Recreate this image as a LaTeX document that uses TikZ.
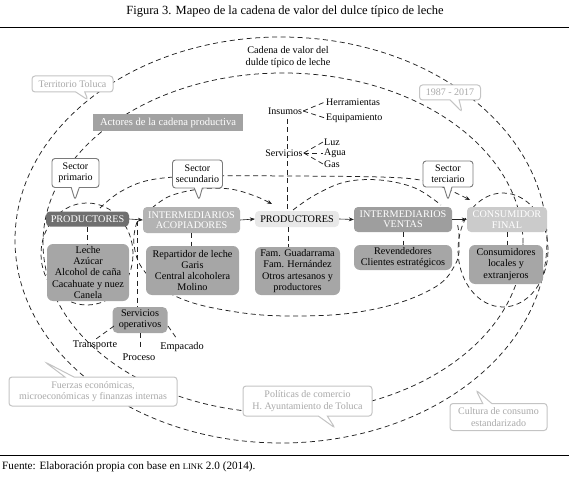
\documentclass[tikz,border=0pt]{standalone}
\usepackage{fontspec}
\setmainfont{Liberation Serif}
\usetikzlibrary{shapes.callouts,arrows.meta}
\definecolor{pdark}{HTML}{6F6F6F}
\definecolor{pia}{HTML}{B3B3B3}
\definecolor{plight}{HTML}{E8E8E8}
\definecolor{piv}{HTML}{9E9E9E}
\definecolor{pcf}{HTML}{CBCBCB}
\definecolor{psub}{HTML}{A6A6A6}
\definecolor{pact}{HTML}{A2A2A2}
\definecolor{cborder}{HTML}{C4C4C4}
\definecolor{ctext}{HTML}{A9A9A9}
\definecolor{sborder}{HTML}{7A7A7A}
\definecolor{lineclr}{HTML}{222222}
\tikzset{
 dline/.style={draw=lineclr, line width=0.75pt, dash pattern=on 5pt off 3.5pt},
 mainbox/.style={rounded corners=4pt, inner sep=0pt, align=center, font=\fontsize{10.2}{10.3}\selectfont},
 subbox/.style={fill=psub, rounded corners=6pt, inner sep=0pt, align=center, font=\fontsize{10.2}{11.3}\selectfont, text=black},
 lbl/.style={font=\fontsize{10}{11}\selectfont, inner sep=1pt},
 graycall/.style={rectangle callout, draw=cborder, line width=1pt, fill=white, rounded corners=3pt, inner sep=0pt, text=ctext, font=\fontsize{10}{11.5}\selectfont, align=center, callout pointer width=9pt},
 sectcall/.style={rectangle callout, draw=sborder, line width=0.9pt, fill=white, rounded corners=3pt, inner sep=0pt, font=\fontsize{10}{11}\selectfont, align=center, callout pointer width=8pt},
 arr/.style={draw=lineclr, line width=0.6pt, -{Stealth[length=5pt,width=4pt]}},
 darr/.style={dline, -{Stealth[length=5pt,width=4pt]}}
}
\begin{document}
\begin{tikzpicture}[x=1pt,y=-1pt]
\useasboundingbox (0,0) rectangle (569,478);
% title and rules
\node[font=\fontsize{12.5}{14}\selectfont, inner sep=0] (title) at (285,12) {Figura 3. Mapeo de la cadena de valor del dulce típico de leche};
\coordinate (r1a) at (0,27); \coordinate (r1b) at (569,27);
\draw[line width=0.9pt] (r1a) -- (r1b);
\coordinate (r2a) at (0,455); \coordinate (r2b) at (569,455);
\draw[line width=0.9pt] (r2a) -- (r2b);
\node[anchor=west, font=\fontsize{11.2}{12}\selectfont, inner sep=0] (foot) at (2,467) {Fuente: Elaboración propia con base en {\fontsize{8.5}{9}\selectfont LINK} 2.0 (2014).};

% big dashed ellipses
\draw[dline] (281,240) ellipse [x radius=266pt, y radius=203pt];
\draw[dline] (283,243) ellipse [x radius=240pt, y radius=170pt];
\draw[dline] (87,254) ellipse [x radius=46pt, y radius=51pt];
\draw[dline] (503,250) ellipse [x radius=45pt, y radius=57pt];
% middle arc
\draw[dline] plot[smooth, tension=0.7] coordinates {(137,222) (134,245) (145,272) (175,296) (230,311) (297,316) (370,310) (430,290) (455,265) (459,240) (457,222)};
% upper arcs
\draw[darr] plot[smooth, tension=0.6] coordinates {(100,208) (120,192) (150,180) (200,176) (290,176) (380,177) (420,180) (445,188) (470,200)};
\draw[darr] plot[smooth, tension=0.6] coordinates {(152,208) (170,196) (200,189) (230,189) (255,196) (272,204)};
\draw[dline] plot[smooth, tension=0.6] coordinates {(293,210) (315,195) (345,182) (380,180) (415,188) (441,205)};

% cadena label
\node[font=\fontsize{10.2}{12.5}\selectfont, align=center, inner sep=0] (cadena) at (288,57) {Cadena de valor del\\dulde típico de leche};

% gray callouts
\node[graycall, minimum width=81pt, minimum height=16pt, callout absolute pointer={(88,100)}] (terr) at (72.5,84) {Territorio Toluca};
\node[graycall, minimum width=61pt, minimum height=15pt, callout absolute pointer={(462,112)}] (anio) at (450,92.5) {1987 - 2017};
\node[graycall, minimum width=168pt, minimum height=29pt, callout absolute pointer={(45,362)}] (fuer) at (93,391.5) {Fuerzas económicas,\\microeconómicas y finanzas internas};
\node[graycall, minimum width=129pt, minimum height=30pt, callout absolute pointer={(335,428)}] (poli) at (307.5,401) {Políticas de comercio\\H. Ayuntamiento de Toluca};
\node[graycall, minimum width=97pt, minimum height=27pt, callout absolute pointer={(476,390)}] (cult) at (498.5,417) {Cultura de consumo\\estandarizado};

% actores
\node[fill=pact, text=white, minimum width=150pt, minimum height=17pt, inner sep=0, font=\fontsize{10.6}{11}\selectfont] (act) at (168,122.5) {Actores de la cadena productiva};

% insumos / servicios
\node[lbl] (ins) at (285,111) {Insumos};
\node[lbl, anchor=west] (herr) at (325,102) {Herramientas};
\node[lbl, anchor=west] (equi) at (325,118) {Equipamiento};
\node[lbl] (serv) at (284,153) {Servicios};
\node[lbl, anchor=west] (luz) at (323,142) {Luz};
\node[lbl, anchor=west] (agua) at (323,153) {Agua};
\node[lbl, anchor=west] (gas) at (323,164) {Gas};
\draw[dline] (ins.east) -- (herr.west);
\draw[dline] (ins.east) -- (equi.west);
\draw[dline] (serv.east) -- (luz.west);
\draw[dline] (serv.east) -- (agua.west);
\draw[dline] (serv.east) -- (gas.west);

% sector callouts
\node[sectcall, minimum width=47pt, minimum height=29pt, callout absolute pointer={(75,200)}] (sp) at (75.5,173) {Sector\\primario};
\node[sectcall, minimum width=50pt, minimum height=28pt, callout absolute pointer={(199,200)}] (ss) at (197.5,174) {Sector\\secundario};
\node[sectcall, minimum width=50pt, minimum height=26pt, callout absolute pointer={(448,200)}] (st) at (448,174) {Sector\\terciario};

% main row
\node[mainbox, fill=pdark, text=white, minimum width=83pt, minimum height=15pt] (p1) at (87.5,219) {PRODUCTORES};
\node[mainbox, fill=pia, text=white, minimum width=97pt, minimum height=26pt] (ia) at (191.5,220) {INTERMEDIARIOS\\ACOPIADORES};
\node[mainbox, fill=plight, text=black, minimum width=84pt, minimum height=16pt] (p2) at (297,219) {PRODUCTORES};
\node[mainbox, fill=piv, text=white, minimum width=98pt, minimum height=25pt] (iv) at (403,219.5) {INTERMEDIARIOS\\VENTAS};
\node[mainbox, fill=pcf, text=white, minimum width=80pt, minimum height=25pt] (cf) at (507,219.5) {CONSUMIDOR\\FINAL};

% vertical from insumos
\coordinate (vtop) at (287,119);
\draw[dline] (vtop) -- (vtop |- p2.north);

% sub boxes
\node[subbox, minimum width=82pt, minimum height=57pt] (b1) at (88,272.5) {Leche\\Azúcar\\Alcohol de caña\\Cacahuate y nuez\\Canela};
\node[subbox, minimum width=93pt, minimum height=49pt] (b2) at (192.5,270.5) {Repartidor de leche\\Garis\\Central alcoholera\\Molino};
\node[subbox, minimum width=85pt, minimum height=48pt] (b3) at (297.5,271) {Fam. Guadarrama\\Fam. Hernández\\Otros artesanos y\\productores};
\node[subbox, minimum width=98pt, minimum height=25pt] (b4) at (403,257.5) {Revendedores\\Clientes estratégicos};
\node[subbox, minimum width=74pt, minimum height=39pt] (b5) at (506,264.5) {Consumidores\\locales y\\extranjeros};

\draw[dline] (p1.south) -- (p1.south |- b1.north);
\draw[dline] (ia.south) -- (ia.south |- b2.north);
\draw[dline] (p2.south -| 288,0) -- (b3.north -| 288,0);
\draw[dline] (iv.south) -- (iv.south |- b4.north);
\draw[dline] (cf.south) -- (cf.south |- b5.north);

% arrows along chain
\draw[arr] (p1.east) -- (ia.west);
\draw[arr] (ia.east) -- (p2.west);
\draw[arr] (p2.east) -- (iv.west);
\draw[arr] (iv.east) -- (cf.west);

% servicios operativos
\node[subbox, rounded corners=5pt, minimum width=55pt, minimum height=26pt] (sop) at (140,320) {Servicios\\operativos};
\coordinate (j1) at (137,221);
\draw[dline] (j1) -- (j1 |- sop.north);
\node[lbl, font=\fontsize{10.3}{11}\selectfont] (transp) at (95,345) {Transporte};
\node[lbl, font=\fontsize{10.3}{11}\selectfont] (proc) at (139,357) {Proceso};
\node[lbl, font=\fontsize{10.3}{11}\selectfont] (empa) at (182,347) {Empacado};
\coordinate (sopA) at (114,326); \coordinate (trA) at (96,339);
\draw[dline] (sopA) -- (trA);
\coordinate (sopB) at (140,333); \coordinate (prB) at (140,349);
\draw[dline] (sopB) -- (prB);
\coordinate (sopC) at (168,326); \coordinate (emC) at (177,339);
\draw[dline] (sopC) -- (emC);
\end{tikzpicture}
\end{document}
